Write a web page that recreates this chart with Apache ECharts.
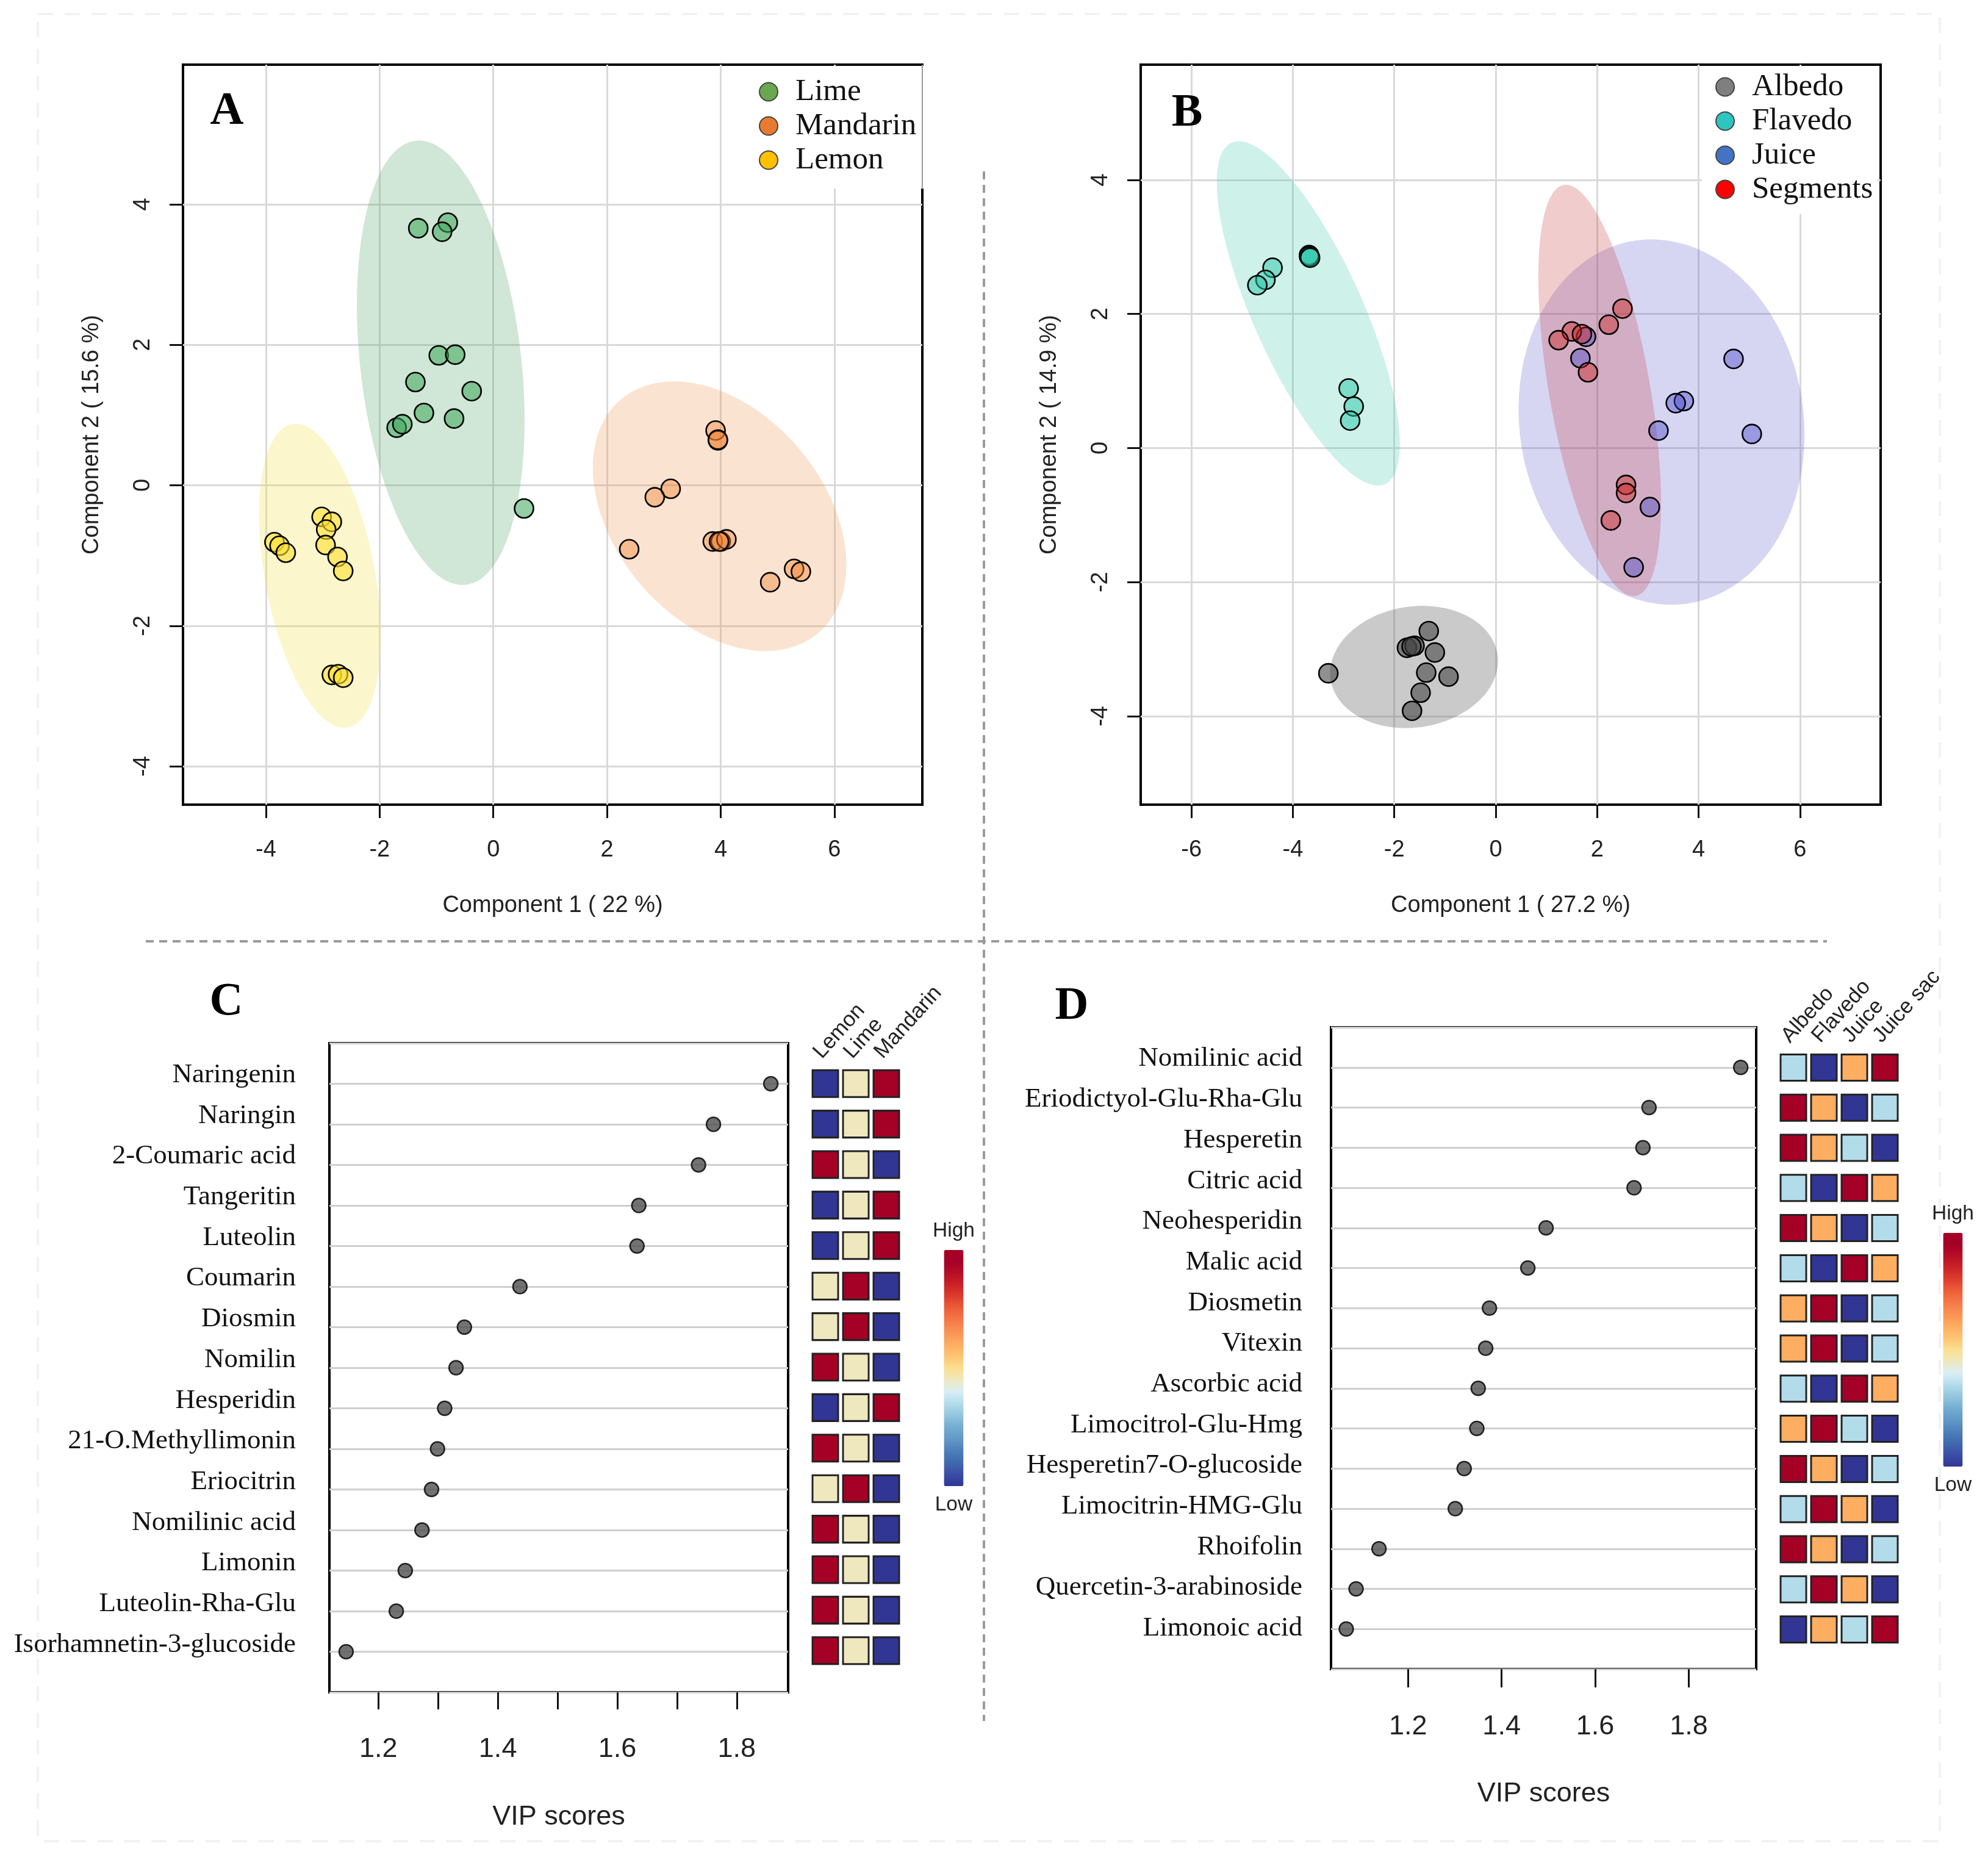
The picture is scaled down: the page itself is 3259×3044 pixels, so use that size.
<!DOCTYPE html>
<html>
<head>
<meta charset="utf-8">
<title>Citrus PCA and VIP scores</title>
<style>
html,body{margin:0;padding:0;background:#fff;}
#main{width:3259px;height:3044px;}
</style>
<script src="https://cdn.jsdelivr.net/npm/echarts@6/dist/echarts.min.js"></script>
</head>
<body>
<div id="main"></div>
<script>
// panel A points [component 1, component 2]
var limePts = [[-1.32,3.66],[-0.80,3.74],[-0.90,3.61],[-0.96,1.85],[-0.67,1.86],[-1.37,1.47],[-0.38,1.34],[-1.22,1.03],[-0.69,0.95],[-1.70,0.82],[-1.60,0.87],[0.54,-0.33]];
var mandarinPts = [[3.91,0.78],[3.95,0.64],[3.95,0.65],[3.12,-0.05],[2.84,-0.17],[2.39,-0.91],[3.86,-0.80],[4.00,-0.80],[4.10,-0.77],[3.97,-0.80],[4.87,-1.38],[5.29,-1.19],[5.41,-1.23]];
var lemonPts = [[-3.02,-0.45],[-2.84,-0.52],[-2.94,-0.63],[-2.95,-0.85],[-2.74,-1.02],[-2.64,-1.22],[-3.85,-0.81],[-3.76,-0.86],[-3.65,-0.96],[-2.84,-2.70],[-2.73,-2.69],[-2.64,-2.74]];
// panel B points
var albedoPts = [[-1.32,-2.73],[-1.75,-2.98],[-1.60,-2.95],[-1.66,-2.96],[-1.20,-3.05],[-1.37,-3.35],[-0.93,-3.41],[-1.48,-3.65],[-1.65,-3.92],[-3.30,-3.36]];
var flavedoPts = [[-3.68,2.88],[-3.68,2.86],[-3.66,2.84],[-4.40,2.69],[-4.54,2.51],[-4.70,2.43],[-2.90,0.89],[-2.80,0.62],[-2.87,0.41]];
var juicePts = [[1.67,1.34],[1.78,1.66],[4.69,1.33],[3.71,0.70],[3.55,0.67],[3.21,0.26],[5.05,0.21],[3.04,-0.88],[2.72,-1.78]];
var segmentsPts = [[2.50,2.08],[2.23,1.84],[1.50,1.74],[1.70,1.70],[1.24,1.61],[1.82,1.13],[2.57,-0.55],[2.57,-0.67],[2.27,-1.08]];
// confidence ellipses: mean x, mean y, half width, half height, correlation
var limeEll = [-0.925,1.745,1.475,3.165,-0.26];
var mandarinEll = [3.98,-0.44,2.23,1.92,-0.36];
var lemonEll = [-3.05,-1.287,1.07,2.165,-0.40];
var albedoEll = [-1.61,-3.266,1.655,0.912,0.10];
var flavedoEll = [-3.695,2.01,1.805,2.57,-0.76];
var juiceEll = [3.27,0.388,2.82,2.726,-0.07];
var segmentsEll = [2.05,0.86,1.21,3.07,-0.55];
// tick labels
var pcaTicksAx = [-4,-2,0,2,4,6];
var pcaTicksAy = [-4,-2,0,2,4];
var pcaTicksBx = [-6,-4,-2,0,2,4,6];
var pcaTicksBy = [-4,-2,0,2,4];
var vipTicksC = [1.2,1.3,1.4,1.5,1.6,1.7,1.8];
var vipTicksD = [1.2,1.4,1.6,1.8];
var vipLabels = [1.2,1.4,1.6,1.8];
var rowIdx = [0,1,2,3,4,5,6,7,8,9,10,11,12,13,14];
// panel C
var compC = ["Naringenin","Naringin","2-Coumaric acid","Tangeritin","Luteolin","Coumarin","Diosmin","Nomilin","Hesperidin","21-O.Methyllimonin","Eriocitrin","Nomilinic acid","Limonin","Luteolin-Rha-Glu","Isorhamnetin-3-glucoside"];
var vipC = [1.857,1.761,1.736,1.636,1.633,1.437,1.344,1.330,1.311,1.299,1.289,1.273,1.245,1.230,1.146];
var colsC = ["Lemon","Lime","Mandarin"];
var heatC = [[0,.45,1],[0,.45,1],[1,.45,0],[0,.45,1],[0,.45,1],[.45,1,0],[.45,1,0],[1,.45,0],[0,.45,1],[1,.45,0],[.45,1,0],[1,.45,0],[1,.45,0],[1,.45,0],[1,.45,0]];
// panel D
var compD = ["Nomilinic acid","Eriodictyol-Glu-Rha-Glu","Hesperetin","Citric acid","Neohesperidin","Malic acid","Diosmetin","Vitexin","Ascorbic acid","Limocitrol-Glu-Hmg","Hesperetin7-O-glucoside","Limocitrin-HMG-Glu","Rhoifolin","Quercetin-3-arabinoside","Limonoic acid"];
var vipD = [1.911,1.715,1.702,1.683,1.495,1.456,1.374,1.366,1.350,1.347,1.320,1.301,1.138,1.089,1.068];
var colsD = ["Albedo","Flavedo","Juice","Juice sac"];
var heatD = [[.35,0,.6,1],[1,.6,0,.35],[1,.6,.35,0],[.35,0,1,.6],[1,.6,0,.35],[.35,0,1,.6],[.6,1,0,.35],[.6,1,0,.35],[.35,0,1,.6],[.6,1,.35,0],[1,.6,0,.35],[.35,1,.6,0],[1,.6,0,.35],[.35,1,.6,0],[0,.6,.35,1]];

// colour bar, bottom to top, in 0.05 steps
var heatColors = ['#313695','#3a4ea6','#4069ae','#4c80ba','#6199c8','#74add1','#93c6dd','#b3dcea','#d8eef5','#efe8bf','#fadf8e','#fdc473','#fdae61','#fa9455','#f67a49','#ee6039','#de3f2e','#cc2327','#b80f26','#a50026','#a50026'];
var SANS = 'Liberation Sans', SERIF = 'Liberation Serif';

// ellipse goes through the library's axes, 90 steps round
function ellipseItem(params, api) {
	var cx = api.value(0), cy = api.value(1), w = api.value(2), h = api.value(3), r = api.value(4);
	var pts = [];
	for (var i = 0; i < 90; i++) {
		var t = i / 90 * Math.PI * 2;
		pts.push(api.coord([cx + w * Math.cos(t), cy + h * (r * Math.cos(t) + Math.sqrt(1 - r * r) * Math.sin(t))]));
	}
	return {type: 'polygon', shape: {points: pts}, style: {fill: api.visual('color'), stroke: null}};
}
function ellipseSeries(name, ell, color, gi) {
	return {type: 'custom', name: name + ' ellipse', xAxisIndex: gi, yAxisIndex: gi, renderItem: ellipseItem, silent: true, z: 1,
		itemStyle: {color: color}, data: [ell], encode: {x: 0, y: 1}};
}
function pointSeries(name, pts, color, gi) {
	return {type: 'scatter', name: name, xAxisIndex: gi, yAxisIndex: gi, symbolSize: 31, z: 3, silent: true,
		itemStyle: {color: color, borderColor: '#000', borderWidth: 2.6, opacity: 1}, data: pts};
}
function pcaAxes(gi, xr, yr, xt, yt, xname, yname) {
	var grey = {show: true, lineStyle: {color: '#d9d9d9', width: 3}};
	return {
		x: {type: 'value', gridIndex: gi, min: xr[0], max: xr[1], name: xname, nameLocation: 'middle', nameGap: 147,
			nameTextStyle: {fontFamily: SANS, fontSize: 38, color: '#222'},
			axisLine: {show: false, onZero: false}, axisTick: {length: 22, customValues: xt, lineStyle: {color: '#111', width: 3}},
			axisLabel: {customValues: xt, margin: 56, fontFamily: SANS, fontSize: 38, color: '#222'}, splitLine: grey},
		y: {type: 'value', gridIndex: gi, min: yr[0], max: yr[1], name: yname, nameLocation: 'middle', nameGap: 130, nameRotate: 90,
			nameTextStyle: {fontFamily: SANS, fontSize: 38, color: '#222'},
			axisLine: {show: false, onZero: false}, axisTick: {length: 22, customValues: yt, lineStyle: {color: '#111', width: 3}},
			axisLabel: {customValues: yt, rotate: 90, margin: 46, fontFamily: SANS, fontSize: 38, color: '#222'}, splitLine: grey}
	};
}
function vipAxes(gi, xr, xt, tickLen, labelGap, nameGap) {
	return {
		x: {type: 'value', gridIndex: gi, min: xr[0], max: xr[1], name: 'VIP scores', nameLocation: 'middle', nameGap: nameGap,
			nameTextStyle: {fontFamily: SANS, fontSize: 45, color: '#222'},
			axisLine: {show: false, onZero: false}, splitLine: {show: false},
			axisTick: {length: tickLen, customValues: xt, lineStyle: {color: '#111', width: 3}},
			axisLabel: {customValues: vipLabels, margin: labelGap, fontFamily: SANS, fontSize: 45, color: '#222', formatter: function(v) {return v.toFixed(1);}}},
		y: {type: 'value', gridIndex: gi, inverse: true, min: -1, max: 15, interval: 1,
			axisLine: {show: false, onZero: false}, axisTick: {show: false}, axisLabel: {show: false},
			splitLine: {show: true, lineStyle: {color: '#cfcfcf', width: 3}}}
	};
}
// the names sit a touch above their lines and drift, so they get their own axis
function nameAxis(gi, names, margin, yr) {
	return {type: 'value', gridIndex: gi, position: 'left', inverse: true, min: yr[0], max: yr[1],
		axisLine: {show: false, onZero: false}, axisTick: {show: false}, splitLine: {show: false},
		axisLabel: {customValues: rowIdx, margin: margin, fontFamily: SERIF, fontSize: 45, color: '#111', hideOverlap: false,
			formatter: function(v) {return names[v] || '';}}};
}
function heatAxes(gi, cols, names) {
	return {
		x: {type: 'category', gridIndex: gi, position: 'top', data: cols, axisLine: {show: false}, axisTick: {show: false}, splitLine: {show: false},
			axisLabel: {interval: 0, rotate: -48, margin: 1, verticalAlign: 'bottom', fontFamily: SANS, fontSize: 35, color: '#222'}},
		y: {type: 'category', gridIndex: gi, inverse: true, data: names, show: false}
	};
}
function dots(vals, gi) {
	var d = [];
	for (var i = 0; i < vals.length; i++) d.push([vals[i], i]);
	return {type: 'scatter', name: 'VIP ' + gi, xAxisIndex: gi, yAxisIndex: gi, symbolSize: 23, silent: true, z: 3,
		itemStyle: {color: '#4f4f4f', borderColor: '#000', borderWidth: 2.5}, data: d};
}
function cells(m, gi, size) {
	var d = [];
	for (var r = 0; r < m.length; r++)
		for (var c = 0; c < m[r].length; c++) d.push([c, r, m[r][c]]);
	return {type: 'scatter', name: 'Heat ' + gi, xAxisIndex: gi, yAxisIndex: gi, symbol: 'rect', symbolSize: size, silent: true,
		itemStyle: {borderColor: '#222', borderWidth: 3, opacity: 1}, data: d};
}
function legendOf(names, colors, left, top, pad) {
	var d = [];
	for (var i = 0; i < names.length; i++) {
		d.push({name: names[i], icon: 'circle', itemStyle: {color: colors[i], borderColor: '#444', borderWidth: 2}});
	}
	return {data: d, orient: 'vertical', left: left, top: top, itemWidth: 30, itemHeight: 30, itemGap: 5, selectedMode: false,
		backgroundColor: '#fff', padding: pad, align: 'left',
		textStyle: {fontFamily: SERIF, fontSize: 51, color: '#111', lineHeight: 30, padding: [0, 0, 0, 24]}};
}
function letter(t, x, y) {
	return {text: t, left: x, top: y, padding: 0, textAlign: 'center',
		textStyle: {fontFamily: SERIF, fontWeight: 'bold', fontSize: 76, color: '#000'}};
}
function dash(x1, y1, x2, y2, color) {
	return {type: 'line', silent: true, shape: {x1: x1, y1: y1, x2: x2, y2: y2},
		style: {stroke: color, lineWidth: 4, lineDash: [13, 9]}};
}

function box(l, t, w, h) {
	return {show: true, borderColor: '#000', borderWidth: 4, backgroundColor: 'transparent', left: l, top: t, width: w, height: h, containLabel: false};
}
function bare(l, t, w, h) {
	return {show: false, left: l, top: t, width: w, height: h};
}

var axA = pcaAxes(0, [-5.458, 7.546], [-4.547, 5.989], pcaTicksAx, pcaTicksAy, 'Component 1 ( 22 %)', 'Component 2 ( 15.6 %)');
var axB = pcaAxes(1, [-7.0, 7.59], [-5.32, 5.72], pcaTicksBx, pcaTicksBy, 'Component 1 ( 27.2 %)', 'Component 2 ( 14.9 %)');
var axC = vipAxes(2, [1.118, 1.886], vipTicksC, 28, 71, 182);
var axCh = heatAxes(3, colsC, compC);
var axD = vipAxes(4, [1.0355, 1.944], vipTicksD, 30, 72, 182);
var axDh = heatAxes(5, colsD, compD);

var seriesList = [
	ellipseSeries('Lime', limeEll, 'rgba(60,150,85,0.24)', 0),
	ellipseSeries('Mandarin', mandarinEll, 'rgba(235,140,60,0.24)', 0),
	ellipseSeries('Lemon', lemonEll, 'rgba(245,220,60,0.26)', 0),
	pointSeries('Lime', limePts, 'rgba(60,165,90,0.55)', 0),
	pointSeries('Mandarin', mandarinPts, 'rgba(240,130,50,0.42)', 0),
	pointSeries('Lemon', lemonPts, 'rgba(255,225,50,0.6)', 0),
	ellipseSeries('Albedo', albedoEll, 'rgba(90,90,90,0.32)', 1),
	ellipseSeries('Flavedo', flavedoEll, 'rgba(50,195,165,0.24)', 1),
	ellipseSeries('Juice', juiceEll, 'rgba(70,70,200,0.22)', 1),
	ellipseSeries('Segments', segmentsEll, 'rgba(200,50,50,0.25)', 1),
	pointSeries('Albedo', albedoPts, 'rgba(70,70,70,0.6)', 1),
	pointSeries('Flavedo', flavedoPts, 'rgba(40,200,170,0.5)', 1),
	pointSeries('Juice', juicePts, 'rgba(70,70,200,0.42)', 1),
	pointSeries('Segments', segmentsPts, 'rgba(205,40,40,0.45)', 1),
	dots(vipC, 2),
	cells(heatC, 3, [42, 44]),
	dots(vipD, 4),
	cells(heatD, 5, [42, 43])
];

var option = {
	backgroundColor: '#fff',
	animation: false,
	title: [letter('A', 372, 145), letter('B', 1946, 148), letter('C', 371, 1605), letter('D', 1757, 1612)],
	grid: [box(300, 106, 1212, 1213), box(1870, 106, 1213, 1213), box(540, 1710, 752, 1064), bare(1328, 1743, 150, 996), box(2182, 1684, 697, 1052), bare(2915, 1717, 200, 987)],
	xAxis: [axA.x, axB.x, axC.x, axCh.x, axD.x, axDh.x],
	yAxis: [axA.y, axB.y, axC.y, axCh.y, axD.y, axDh.y, nameAxis(2, compC, 55, [-0.78, 15.17]), nameAxis(4, compD, 47, [-0.774, 15.0])],
	legend: [
		legendOf(['Lime', 'Mandarin', 'Lemon'], ['#6aa84f', '#e97b30', '#ffc000'], 1210, 108, [17, 12, 21, 34]),
		legendOf(['Albedo', 'Flavedo', 'Juice', 'Segments'], ['#7f7f7f', '#2ec4c0', '#4472c4', '#ff0000'], 2790, 108, [9, 7, 15, 22])
	],
	visualMap: [
		{type: 'continuous', seriesIndex: 15, dimension: 2, min: 0, max: 1, inRange: {color: heatColors}, text: ['High', 'Low'], textGap: 14,
			itemWidth: 32, itemHeight: 387, left: 1514, top: 1986, calculable: false, hoverLink: false,
			textStyle: {fontFamily: SANS, fontSize: 33.5, color: '#222'}},
		{type: 'continuous', seriesIndex: 17, dimension: 2, min: 0, max: 1, inRange: {color: heatColors}, text: ['High', 'Low'], textGap: 14,
			itemWidth: 32, itemHeight: 383, left: 3152, top: 1958, calculable: false, hoverLink: false,
			textStyle: {fontFamily: SANS, fontSize: 33.5, color: '#222'}}
	],
	graphic: [
		dash(1613, 281, 1613, 2821, '#9a9a9a'),
		dash(239, 1543, 2995, 1543, '#9a9a9a'),
		{type: 'rect', silent: true, shape: {x: 62, y: 23, width: 3118, height: 2995}, style: {fill: null, stroke: '#f2f2f2', lineWidth: 4, lineDash: [25, 19]}},
		// thin grey edge left beside panel A's legend
		{type: 'line', silent: true, z: 200, shape: {x1: 1512, y1: 106, x2: 1512, y2: 308}, style: {stroke: '#999', lineWidth: 2}}
	],
	series: seriesList
};

var myChart = echarts.init(document.getElementById('main'));
myChart.setOption(option);
</script>
</body>
</html>
